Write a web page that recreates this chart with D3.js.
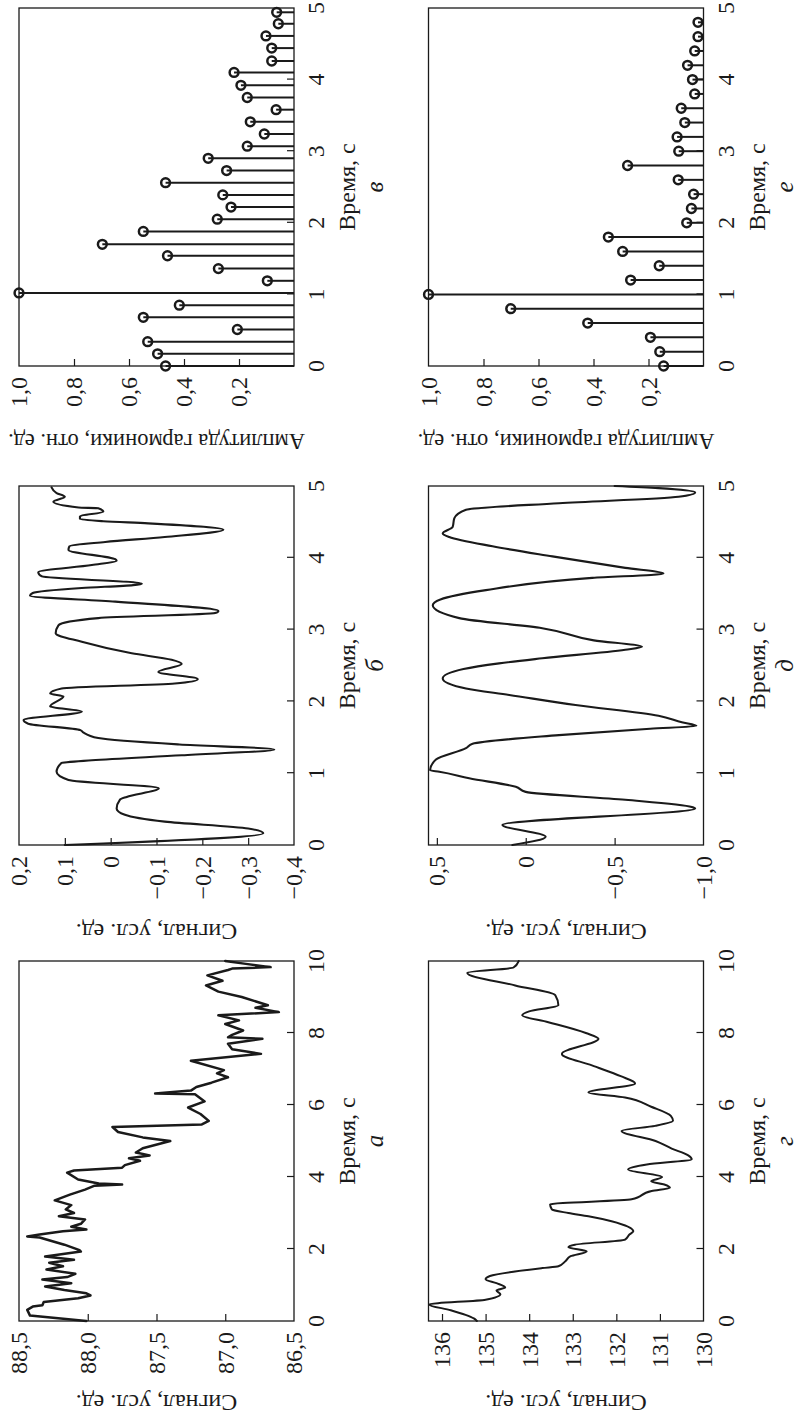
<!DOCTYPE html>
<html><head><meta charset="utf-8">
<script src="https://cdn.jsdelivr.net/npm/d3@7"></script>
<style>body{margin:0;background:#fff} svg{display:block}</style>
</head><body>
<script>
// ---------- data ----------
// panel а
const timeA=[0,0.15,0.31,0.40,0.44,0.53,0.63,0.71,0.77,0.86,0.96,1.05,1.15,1.22,1.31,1.43,1.52,1.62,1.70,1.79,1.93,1.97,2.12,2.32,2.35,2.40,2.49,2.54,2.62,2.70,2.82,2.91,3.00,3.10,3.22,3.35,3.51,3.65,3.76,3.79,3.82,3.93,4.12,4.18,4.26,4.33,4.45,4.52,4.60,4.68,4.80,5.00,5.10,5.25,5.39,5.46,5.56,5.75,5.93,6.10,6.30,6.32,6.40,6.50,6.62,6.77,6.88,6.97,7.23,7.42,7.55,7.70,7.84,7.88,7.95,8.07,8.25,8.35,8.49,8.58,8.70,8.77,9.00,9.15,9.32,9.45,9.60,9.75,9.79,9.83,9.92,10.0];
const sigA=[88.01,88.42,88.44,88.40,88.33,88.32,88.07,87.98,88.01,88.17,88.31,88.12,88.33,88.15,88.09,88.30,88.18,88.28,88.10,88.31,88.05,88.06,88.17,88.35,88.44,88.35,88.18,88.01,88.12,88.05,88.02,88.21,88.10,88.16,88.12,88.24,88.13,88.02,87.95,87.75,87.92,88.07,88.15,88.10,87.75,87.73,87.62,87.70,87.55,87.65,87.60,87.40,87.60,87.78,87.82,87.17,87.12,87.18,87.27,87.15,87.22,87.51,87.25,87.21,87.10,86.98,87.06,87.01,87.25,86.74,86.95,86.98,86.73,86.98,86.95,86.87,87.00,86.90,87.05,86.61,86.78,86.69,86.88,87.05,87.14,87.02,87.13,86.98,86.95,86.67,86.85,87.00];
// panel б
const timeB=[0,0.163,0.23,0.325,0.42,0.51,0.63,0.67,0.79,0.905,1.02,1.14,1.18,1.25,1.33,1.40,1.49,1.57,1.60,1.69,1.74,1.86,1.93,2.07,2.11,2.18,2.25,2.31,2.41,2.52,2.58,2.67,2.83,2.95,3.06,3.16,3.23,3.26,3.39,3.47,3.51,3.58,3.62,3.64,3.74,3.80,3.90,3.96,3.98,4.11,4.16,4.22,4.29,4.39,4.48,4.51,4.54,4.58,4.64,4.69,4.70,4.78,4.85,4.90,4.98];
const sigB=[0.10,-0.333,-0.30,-0.118,-0.031,-0.013,-0.02,-0.035,-0.105,0.092,0.118,0.108,0.041,-0.155,-0.357,-0.15,0.027,0.06,0.066,0.18,0.19,0.063,0.132,0.103,0.132,0.107,-0.14,-0.19,-0.104,-0.155,-0.133,-0.046,0.063,0.12,0.114,0.027,-0.228,-0.235,-0.01,0.176,0.17,0.063,-0.049,-0.068,0.15,0.158,0.041,-0.013,-0.01,0.092,0.09,0.012,-0.118,-0.246,-0.082,0.016,0.067,0.067,0.016,0.027,0.07,0.125,0.10,0.118,0.129];
// panel в (spectrum)
const stemTimeV=[0,0.17,0.34,0.51,0.68,0.85,1.02,1.19,1.36,1.54,1.70,1.88,2.05,2.22,2.39,2.56,2.73,2.90,3.07,3.24,3.41,3.58,3.75,3.92,4.10,4.26,4.44,4.61,4.78,4.94];
const stemAmpV=[0.467,0.496,0.532,0.206,0.548,0.417,1.0,0.097,0.275,0.46,0.697,0.548,0.279,0.229,0.259,0.467,0.245,0.312,0.17,0.108,0.159,0.065,0.17,0.193,0.218,0.081,0.081,0.102,0.057,0.063];
// panel г
const timeG=[0,0.07,0.17,0.30,0.46,0.59,0.74,0.85,0.93,1.05,1.16,1.25,1.47,1.52,1.66,1.80,1.93,2.05,2.12,2.26,2.40,2.49,2.77,2.91,3.00,3.10,3.24,3.38,3.61,3.70,3.79,3.88,4.00,4.21,4.35,4.49,4.60,4.79,5.00,5.28,5.42,5.56,5.70,5.95,6.21,6.35,6.60,6.80,7.10,7.42,7.84,8.00,8.30,8.49,8.60,8.77,9.05,9.32,9.67,9.82,10.0];
const sigG=[135.2,135.27,135.46,135.8,136.3,135.0,134.66,134.75,134.55,134.75,135.0,134.9,133.7,133.33,133.17,133.05,132.68,133.10,132.95,131.80,131.70,131.61,132.11,132.64,133.10,133.48,133.52,131.65,131.19,130.77,130.9,131.2,130.95,131.73,131.3,130.27,130.35,130.73,131.1,131.88,131.11,130.70,130.75,131.2,131.80,132.64,131.57,131.9,132.56,133.25,132.41,132.7,133.56,134.16,134.0,133.33,133.40,134.32,135.42,134.36,134.24];
// panel д
const timeD=[0,0.116,0.28,0.51,0.53,0.63,0.74,0.81,0.93,1.02,1.04,1.19,1.35,1.41,1.53,1.62,1.66,1.71,1.80,1.95,2.09,2.18,2.32,2.45,2.53,2.60,2.72,2.76,2.85,3.02,3.16,3.34,3.42,3.55,3.72,3.78,3.86,4.02,4.16,4.29,4.34,4.43,4.55,4.67,4.76,4.85,4.91,4.97,5.0];
const sigD=[0.075,-0.112,0.131,-0.953,-0.934,-0.56,0.0,0.056,0.318,0.486,0.538,0.505,0.336,0.299,-0.187,-0.7,-0.96,-0.878,-0.747,-0.28,0.093,0.336,0.467,0.35,0.15,-0.093,-0.56,-0.654,-0.383,-0.093,0.374,0.523,0.48,0.224,-0.374,-0.775,-0.56,-0.15,0.187,0.43,0.467,0.411,0.402,0.336,-0.187,-0.86,-0.953,-0.747,-0.5];
// panel е (spectrum)
const stemTimeE=[0,0.2,0.4,0.6,0.8,1.0,1.2,1.4,1.6,1.8,2.0,2.2,2.4,2.6,2.8,3.0,3.2,3.4,3.6,3.8,4.0,4.2,4.4,4.6,4.8];
const stemAmpE=[0.145,0.159,0.193,0.421,0.701,1.0,0.265,0.161,0.294,0.346,0.061,0.044,0.036,0.092,0.276,0.09,0.096,0.068,0.081,0.032,0.04,0.058,0.032,0.02,0.02];

// ticks & labels
const xTicks10=[0,2,4,6,8,10];
const xTicks5=[0,1,2,3,4,5];
const yTicksA=[86.5,87,87.5,88,88.5];
const yTicksB=[-0.4,-0.3,-0.2,-0.1,0,0.1,0.2];
const yTicksSpec=[0.2,0.4,0.6,0.8,1.0];
const yTicksG=[130,131,132,133,134,135,136];
const yTicksD=[-1,-0.5,0,0.5];
const xTitle="Время, с";
const yTitleSig="Сигнал, усл. ед.";
const yTitleSpec="Амплитуда гармоники, отн. ед.";
const letters=["а","б","в","г","д","е"];

// ---------- drawing ----------
const FONT='"Liberation Serif","Times New Roman",serif';
const FS=24;
const INK="#1a1a1a";
const svg=d3.select('body').append('svg').attr('width',809).attr('height',1422);
svg.append('rect').attr('width',809).attr('height',1422).attr('fill','#fff');
// the figure is laid out landscape (1422 x 809) and turned 90° counter-clockwise
const root=svg.append('g').attr('transform','translate(0,1422) rotate(-90)');

function fmt(dec){
  return v=>{
    if(v===0) return "0";
    let s=dec===0? d3.format('d')(v) : d3.format('.'+dec+'f')(Math.abs(v));
    if(dec!==0 && v<0) s="\u2212"+s;
    return s.replace('.',',').replace('-','\u2212');
  };
}

const cols=[{x0:101,w:360,tOff:82},{x0:577,w:359,tOff:87},{x0:1056,w:358,tOff:76}];
const rows=[{y0:19,h:275},{y0:428.5,h:275}];

const panels=[
 {c:0,r:0,kind:'line',t:timeA,v:sigA,xd:[0,10],xt:xTicks10,yd:[86.5,88.5],yt:yTicksA,dec:1,title:yTitleSig,tfs:FS,L:letters[0],sw:2.5,curve:d3.curveLinear},
 {c:1,r:0,kind:'line',t:timeB,v:sigB,xd:[0,5],xt:xTicks5,yd:[-0.4,0.2],yt:yTicksB,dec:1,title:yTitleSig,tfs:FS,L:letters[1],sw:2.1,curve:d3.curveMonotoneX},
 {c:2,r:0,kind:'stem',t:stemTimeV,v:stemAmpV,xd:[0,5],xt:xTicks5,yd:[0,1],yt:yTicksSpec,dec:1,title:yTitleSpec,tfs:22.5,L:letters[2]},
 {c:0,r:1,kind:'line',t:timeG,v:sigG,xd:[0,10],xt:xTicks10,yd:[130,136.31],yt:yTicksG,dec:0,title:yTitleSig,tfs:FS,L:letters[3],sw:2.0,curve:d3.curveMonotoneX},
 {c:1,r:1,kind:'line',t:timeD,v:sigD,xd:[0,5],xt:xTicks5,yd:[-1,0.547],yt:yTicksD,dec:1,title:yTitleSig,tfs:FS,L:letters[4],sw:2.1,curve:d3.curveMonotoneX},
 {c:2,r:1,kind:'stem',t:stemTimeE,v:stemAmpE,xd:[0,5],xt:xTicks5,yd:[0,1],yt:yTicksSpec,dec:1,title:yTitleSpec,tfs:22.5,L:letters[5]}
];

panels.forEach(p=>{
  const C=cols[p.c], R=rows[p.r];
  const g=root.append('g').attr('transform',`translate(${C.x0},${R.y0})`);
  const x=d3.scaleLinear().domain(p.xd).range([0,C.w]);
  const y=d3.scaleLinear().domain(p.yd).range([R.h,0]);
  const f=fmt(p.dec);

  // inner tick marks
  const xa=d3.axisBottom(x).tickValues(p.xt.filter(t=>t>p.xd[0]&&t<p.xd[1])).tickSizeInner(-7).tickSizeOuter(0).tickFormat('');
  const gx=g.append('g').attr('transform',`translate(0,${R.h})`).call(xa);
  const ya=d3.axisLeft(y).tickValues(p.yt.filter(v=>v>p.yd[0]&&v<p.yd[1])).tickSizeInner(-7).tickSizeOuter(0).tickFormat('');
  const gy=g.append('g').call(ya);
  [gx,gy].forEach(a=>{a.select('.domain').remove();a.selectAll('line').attr('stroke',INK).attr('stroke-width',1.2);});

  // data
  if(p.kind==='line'){
    const line=d3.line().x((d,i)=>x(p.t[i])).y(d=>y(d)).curve(p.curve);
    g.append('path').attr('d',line(p.v)).attr('fill','none').attr('stroke',INK)
      .attr('stroke-width',p.sw).attr('stroke-linejoin','round').attr('stroke-linecap','round');
  } else {
    g.selectAll('line.stem').data(p.v).join('line').attr('class','stem')
      .attr('x1',(d,i)=>x(p.t[i])).attr('x2',(d,i)=>x(p.t[i]))
      .attr('y1',y(0)).attr('y2',d=>y(d)).attr('stroke',INK).attr('stroke-width',2);
    g.selectAll('circle').data(p.v).join('circle')
      .attr('cx',(d,i)=>x(p.t[i])).attr('cy',d=>y(d)).attr('r',4.4)
      .attr('fill','none').attr('stroke',INK).attr('stroke-width',2.5);
  }

  // frame
  g.append('rect').attr('width',C.w).attr('height',R.h).attr('fill','none')
   .attr('stroke',INK).attr('stroke-width',1.3);

  // tick labels
  g.selectAll('text.xl').data(p.xt).join('text').attr('class','xl')
   .attr('x',d=>x(d)).attr('y',R.h+30).attr('text-anchor','middle')
   .attr('font-family',FONT).attr('font-size',FS).attr('fill',INK).text(d=>d);
  g.selectAll('text.yl').data(p.yt).join('text').attr('class','yl')
   .attr('x',-11).attr('y',d=>y(d)).attr('dy','0.35em').attr('text-anchor','end')
   .attr('font-family',FONT).attr('font-size',FS).attr('fill',INK).text(d=>f(d));

  // titles
  g.append('text').attr('x',C.w/2).attr('y',R.h+61).attr('text-anchor','middle')
   .attr('font-family',FONT).attr('font-size',FS).attr('fill',INK).text(xTitle);
  g.append('text').attr('x',C.w/2).attr('y',R.h+89).attr('text-anchor','middle')
   .attr('font-family',FONT).attr('font-size',FS+1).attr('font-style','italic').attr('fill',INK).text(p.L);
  g.append('text').attr('transform',`translate(${-C.tOff},${R.h/2}) rotate(-90)`)
   .attr('dy','0.35em').attr('text-anchor','middle')
   .attr('font-family',FONT).attr('font-size',p.tfs).attr('fill',INK).text(p.title);
});
</script>
</body></html>
